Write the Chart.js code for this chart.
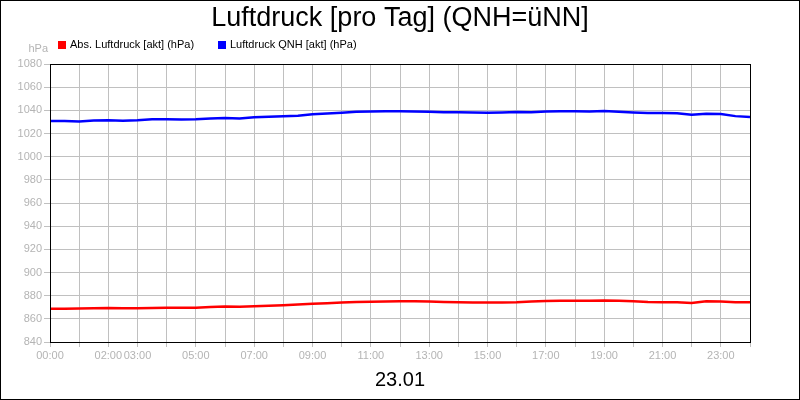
<!DOCTYPE html>
<html>
<head>
<meta charset="utf-8">
<script src="https://cdn.jsdelivr.net/npm/chart.js@4/dist/chart.umd.min.js"></script>
<style>
  html, body { margin: 0; padding: 0; background: #fff; }
  #wrap { width: 800px; height: 400px; }
</style>
</head>
<body>
<div id="wrap"><canvas id="pressureChart" width="800" height="400"></canvas></div>
<script>
// =========================
// Data
// =========================
const chartTitle = 'Luftdruck [pro Tag] (QNH=üNN]';
const dayLabel = '23.01';
const unitLabel = 'hPa';

// hours of the day, every half hour
const hours = [0, 0.5, 1, 1.5, 2, 2.5, 3, 3.5, 4, 4.5, 5, 5.5, 6, 6.5, 7, 7.5, 8, 8.5, 9, 9.5,
    10, 10.5, 11, 11.5, 12, 12.5, 13, 13.5, 14, 14.5, 15, 15.5, 16, 16.5, 17, 17.5, 18, 18.5,
    19, 19.5, 20, 20.5, 21, 21.5, 22, 22.5, 23, 23.5, 24];

const absPressure = [868.7, 868.8, 868.9, 869.1, 869.3, 869.2, 869.2, 869.4, 869.5, 869.5,
    869.6, 870.2, 870.7, 870.4, 870.8, 871.3, 871.8, 872.3, 873.0, 873.5,
    874.0, 874.6, 874.8, 875.0, 875.2, 875.1, 875.0, 874.6, 874.3, 874.2,
    874.1, 874.2, 874.4, 874.9, 875.4, 875.6, 875.7, 875.7, 875.8, 875.6,
    875.2, 874.5, 874.4, 874.3, 873.7, 875.2, 875.0, 874.4, 874.3];

const qnhPressure = [1030.8, 1030.8, 1030.4, 1031.2, 1031.4, 1031.0, 1031.4, 1032.4, 1032.3, 1032.1,
    1032.2, 1032.9, 1033.4, 1033.0, 1034.0, 1034.4, 1034.8, 1035.4, 1036.6, 1037.3,
    1038.0, 1038.7, 1039.0, 1039.3, 1039.3, 1039.1, 1038.8, 1038.3, 1038.3, 1038.1,
    1038.0, 1038.2, 1038.5, 1038.4, 1039.0, 1039.3, 1039.2, 1039.0, 1039.4, 1038.8,
    1038.2, 1037.8, 1037.6, 1037.5, 1036.2, 1037.0, 1036.9, 1035.0, 1034.3];

// hours that get a tick label on the x axis (01:00 is skipped in the original)
const labeledHours = [0, 2, 3, 5, 7, 9, 11, 13, 15, 17, 19, 21, 23];

const yMin = 840;
const yMax = 1080;
const yStep = 20;

const seriesNames = ['Abs. Luftdruck [akt] (hPa)', 'Luftdruck QNH [akt] (hPa)'];
const seriesColors = ['#ff0000', '#0000ff'];

// =========================
// Helpers
// =========================
const FONT = '"Liberation Sans", Arial, sans-serif';
const GRID = '#c0c0c0';
const TICK_TEXT = '#b4b4b4';

function toPoints(values) {
    return values.map((v, i) => ({ x: hours[i], y: v }));
}

function hh(h) {
    return (h < 10 ? '0' : '') + h + ':00';
}

// draws background, frame, title, legend and unit label
const decorations = {
    id: 'decorations',
    beforeDraw(chart) {
        const ctx = chart.ctx;
        ctx.save();
        ctx.fillStyle = '#fff';
        ctx.fillRect(0, 0, chart.width, chart.height);
        ctx.restore();
    },
    afterDraw(chart) {
        const ctx = chart.ctx;
        const area = chart.chartArea;
        ctx.save();

        // plot frame
        ctx.strokeStyle = '#000';
        ctx.lineWidth = 1;
        ctx.strokeRect(Math.round(area.left) + 0.5, Math.round(area.top) + 0.5,
            Math.round(area.right - area.left), Math.round(area.bottom - area.top));

        // outer frame
        ctx.strokeRect(0.5, 0.5, chart.width - 1, chart.height - 1);

        // title
        ctx.fillStyle = '#000';
        ctx.font = '27px ' + FONT;
        ctx.textAlign = 'center';
        ctx.textBaseline = 'alphabetic';
        ctx.fillText(chartTitle, chart.width / 2, 26);

        // legend
        ctx.font = '11px ' + FONT;
        ctx.textAlign = 'left';
        ctx.textBaseline = 'middle';
        const legendX = [58, 218];
        chart.data.datasets.forEach((ds, i) => {
            const x = legendX[i];
            ctx.fillStyle = ds.borderColor;
            ctx.fillRect(x, 41, 8, 8);
            ctx.fillStyle = '#000';
            ctx.fillText(ds.label, x + 12, 45);
        });

        // unit
        ctx.fillStyle = TICK_TEXT;
        ctx.textAlign = 'right';
        ctx.fillText(unitLabel, 48, 49);

        ctx.restore();
    }
};

// =========================
// Chart
// =========================
const ctx = document.getElementById('pressureChart').getContext('2d');

const pressureChart = new Chart(ctx, {
    type: 'line',
    data: {
        datasets: [
            {
                label: seriesNames[0],
                data: toPoints(absPressure),
                borderColor: seriesColors[0],
                backgroundColor: seriesColors[0],
                borderWidth: 2.5,
                pointRadius: 0,
                tension: 0
            },
            {
                label: seriesNames[1],
                data: toPoints(qnhPressure),
                borderColor: seriesColors[1],
                backgroundColor: seriesColors[1],
                borderWidth: 2.5,
                pointRadius: 0,
                tension: 0
            }
        ]
    },
    options: {
        responsive: false,
        animation: false,
        devicePixelRatio: 1,
        layout: { padding: { left: 0, right: 50, top: 64, bottom: 8 } },
        plugins: {
            legend: { display: false },
            title: { display: false },
            tooltip: { enabled: false }
        },
        scales: {
            x: {
                type: 'linear',
                min: 0,
                max: 24,
                afterFit: s => { s.height = 50; },
                afterBuildTicks: s => {
                    s.ticks = [];
                    for (let h = 0; h <= 24; h++) s.ticks.push({ value: h });
                },
                ticks: {
                    autoSkip: false,
                    maxRotation: 0,
                    minRotation: 0,
                    padding: 2,
                    color: TICK_TEXT,
                    font: { family: FONT, size: 11 },
                    callback: v => labeledHours.includes(v) ? hh(v) : ''
                },
                grid: { color: GRID, lineWidth: 1, tickLength: 5 },
                border: { display: true, color: '#000' },
                title: {
                    display: true,
                    text: dayLabel,
                    color: '#000',
                    font: { family: FONT, size: 20 },
                    padding: { top: 0, bottom: 0 }
                }
            },
            y: {
                min: yMin,
                max: yMax,
                afterFit: s => { s.width = 50; },
                ticks: {
                    stepSize: yStep,
                    padding: 2,
                    color: TICK_TEXT,
                    font: { family: FONT, size: 11 },
                    callback: v => String(v)
                },
                grid: { color: GRID, lineWidth: 1, tickLength: 6 },
                border: { display: true, color: '#000' }
            }
        }
    },
    plugins: [decorations]
});
</script>
</body>
</html>
